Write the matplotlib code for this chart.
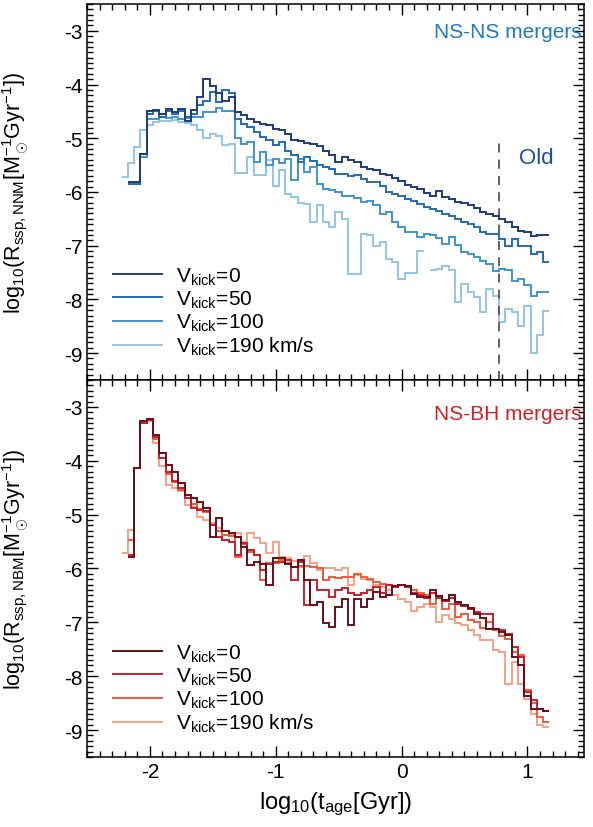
import numpy as np
import matplotlib
matplotlib.use("Agg")
import matplotlib.pyplot as plt
from matplotlib.ticker import MultipleLocator

plt.rcParams['font.family'] = ['Liberation Sans', 'DejaVu Sans']
plt.rcParams['mathtext.fontset'] = 'custom'
plt.rcParams['mathtext.rm'] = 'Liberation Sans'
plt.rcParams['mathtext.it'] = 'Liberation Sans:italic'
plt.rcParams['mathtext.bf'] = 'Liberation Sans:bold'
plt.rcParams['axes.unicode_minus'] = False

nan = np.nan

# log10(t_age / Gyr) bin edges, 0.05 dex wide
log_age_edges = np.round(np.arange(-2.225, 1.2, 0.05), 3)

kick_labels = ["V$_\\mathregular{kick}$=0", "V$_\\mathregular{kick}$=50",
               "V$_\\mathregular{kick}$=100", "V$_\\mathregular{kick}$=190 km/s"]

# NS-NS merger rate per unit stellar mass, log10
nnm_v0 = [nan, -5.81, -5.81, -5.29, -4.50, -4.47, -4.54, -4.45, -4.51, -4.45, -4.67, -4.48,
          -4.23, -3.90, -4.02, -4.16, -4.30, -4.23,
          -4.51, -4.57, -4.64, -4.69, -4.74, -4.76, -4.82, -4.84, -4.93, -5.04, -5.06,
          -5.08, -5.10, -5.14, -5.23, -5.31, -5.45, -5.35, -5.40, -5.45,
          -5.54, -5.57, -5.60, -5.66, -5.69, -5.74, -5.79, -5.87, -5.91, -5.94,
          -6.02, -6.07, -5.99, -6.10, -6.13, -6.19, -6.20, -6.24, -6.30, -6.38,
          -6.41, -6.44, -6.50, -6.56, -6.66, -6.72, -6.75, -6.82, -6.80, -6.81]
nnm_v50 = [nan, -5.85, -5.85, -5.29, -4.55, -4.50, -4.60, -4.50, -4.55, -4.50, -4.60, -4.55,
           -4.39, -4.31, -4.14, -4.33, -4.11, -4.15,
           -4.64, -4.73, -4.79, -4.88, -4.98, -5.03, -5.13, -5.07, -5.23, -5.32, -5.44,
           -5.35, -5.42, -5.50, -5.54, -5.57, -5.66, -5.66, -5.71, -5.68,
           -5.76, -5.81, -5.82, -5.88, -6.00, -6.04, -6.07, -6.13, -6.16, -6.22,
           -6.28, -6.32, -6.35, -6.41, -6.44, -6.50, -6.56, -6.60, -6.66, -6.74,
           -6.78, -6.78, -6.87, -7.00, -6.87, -7.00, -7.00, -7.15, -7.12, -7.30]
nnm_v100 = [nan, -5.85, -5.85, -5.35, -4.65, -4.65, -4.60, -4.62, -4.60, -4.65, -4.63, -4.60,
            -4.60, -4.51, -4.51, -4.44, -4.50, -4.50,
            -5.00, -5.10, -5.07, -5.44, -5.26, -5.50, -5.38, -5.47, -5.38, -5.78, -5.38,
            -5.63, -5.54, -5.86, -5.94, -5.97, -6.00, -6.07, -6.08, -6.12,
            -6.19, -6.16, -6.24, -6.41, -6.38, -6.55, -6.66, -6.75, -6.75, -6.84,
            -6.78, -6.81, -6.86, -6.97, -6.84, -6.99, -7.12, -7.15, -7.22, -7.28,
            -7.34, -7.48, -7.43, -7.46, -7.65, -7.62, -7.74, -7.93, -7.86, -7.86]
nnm_v190 = [-5.72, -5.47, -5.16, -4.85, -4.76, -4.70, -4.68, -4.68, -4.66, -4.70, -4.72, -4.76,
            -4.85, -5.00, -4.92, -4.96, -5.12, -5.10,
            -5.65, -5.65, -5.35, -5.69, -5.69, -5.40, -5.88, -5.60, -6.03, -6.10, -6.20,
            -6.22, -6.56, -6.25, -6.56, -6.66, -6.38, -6.50, -7.53, -7.53,
            -6.78, -6.81, -7.00, -6.94, -7.25, -7.31, -7.62, -7.50, -7.51, -7.09,
            nan, -7.46, -7.43, -7.37, -7.46, -8.05, -7.71, -7.87, -7.96, -8.24,
            -7.81, -7.93, -8.43, -8.18, -8.24, -8.49, -8.12, -8.99, -8.67, -8.21]

# NS-BH merger rate per unit stellar mass, log10
nbm_v0 = [nan, -5.78, -4.14, -3.27, -3.22, -3.52, -3.86, -4.07, -4.20, -4.42, -4.63, -4.70,
          -4.76, -4.88, -5.41, -5.07, -5.30, -5.35,
          -5.41, -5.60, -5.94, -5.88, -5.91, -6.31, -5.81, -5.81, -5.91, -5.97, -5.85,
          -6.22, -6.68, -6.62, -7.02, -7.09, -6.71, -6.56, -7.05, -6.56,
          -6.71, -6.56, -6.43, -6.53, -6.50, -6.32, -6.30, -6.32, -6.47, -6.52,
          -6.53, -6.40, -6.51, -6.59, -6.50, -6.63, -6.67, -6.74, -6.84, -6.92,
          -7.12, -7.13, -7.17, -7.24, -7.64, -7.80, -8.36, -8.60, -8.60, -8.65]
nbm_v50 = [nan, -5.75, -4.14, -3.30, -3.24, -3.55, -3.95, -4.20, -4.38, -4.51, -4.70, -4.88,
           -4.91, -4.94, -5.19, -5.41, -5.47, -5.50,
           -5.75, -5.53, -5.66, -5.75, -6.03, -5.91, -5.88, -5.88, -5.85, -6.22, -5.88,
           -6.68, -6.22, -6.40, -6.40, -6.53, -6.40, -6.37, -6.45, -6.50,
           -6.45, -6.40, -6.35, -6.45, -6.30, -6.35, -6.30, -6.35, -6.45, -6.50,
           -6.55, -6.45, -6.55, -6.60, -6.55, -6.65, -6.70, -6.75, -6.80, -6.85,
           -6.84, -7.13, -7.15, -7.22, -7.45, -7.65, -8.30, -8.45, -8.60, -8.65]
nbm_v100 = [nan, -5.47, -4.14, -3.30, -3.25, -3.60, -3.95, -4.25, -4.40, -4.55, -4.70, -4.80,
            -4.90, -4.95, -5.19, -5.30, -5.38, -5.40,
            -5.78, -5.55, -5.70, -5.75, -6.22, -5.90, -5.90, -5.85, -5.90, -5.97, -5.95,
            -5.95, -5.97, -6.00, -6.22, -6.15, -6.18, -6.15, -6.15, -6.10,
            -6.15, -6.20, -6.25, -6.28, -6.30, -6.32, -6.30, -6.35, -6.40, -6.45,
            -6.50, -6.65, -6.55, -6.75, -6.65, -6.90, -6.85, -6.95, -7.00, -7.10,
            -7.00, -7.15, -7.25, -7.30, -7.55, -7.60, -8.25, -8.50, -8.75, -8.85]
nbm_v190 = [-5.72, -5.29, -4.14, -3.30, -3.27, -3.67, -4.10, -4.45, -4.51, -4.57, -4.82, -4.85,
            -5.04, -5.10, -5.16, -5.25, -5.30, -5.38,
            -5.35, -5.50, -5.35, -5.44, -5.53, -5.72, -5.50, -5.78, -5.80, -5.87, -5.98,
            -5.76, -5.90, -6.03, -6.00, -6.00, -6.03, -6.00, -6.31, -6.12,
            -6.19, -6.22, -6.31, -6.34, -6.40, -6.50, -6.56, -6.62, -6.78, -6.71,
            -6.65, -6.71, -6.99, -6.87, -6.93, -7.02, -7.05, -7.15, -7.24, -7.33,
            -7.33, -7.52, -7.55, -8.14, -7.74, -8.14, -8.42, -8.70, -8.90, -8.95]

old_age_gyr = 6.0

blues = ["#1f3b7c", "#1f6db8", "#3f95d0", "#92c5e6"]
reds = ["#6b0d17", "#cc1f2a", "#f25a3d", "#f8a083"]

fig = plt.figure(figsize=(5.93, 8.28), dpi=100)
ax_top = fig.add_axes([0.1467, 0.5399, 0.8381, 0.4541])
ax_bot = fig.add_axes([0.1467, 0.0845, 0.8381, 0.4554])


def draw_panel(ax, series, colors):
    handles = []
    for vals, col, lab in zip(series, colors, kick_labels):
        h = ax.stairs(np.asarray(vals, float), log_age_edges, baseline=None,
                      color=col, lw=1.4, label=lab)
        handles.append(h)
    for h, z in zip(handles, [5, 4, 3, 2]):
        h.set_zorder(z)
    ax.set_xlim(-2.5, 1.45)
    ax.set_ylim(-9.5, -2.5)
    ax.xaxis.set_major_locator(MultipleLocator(1))
    ax.xaxis.set_minor_locator(MultipleLocator(0.1))
    ax.yaxis.set_major_locator(MultipleLocator(1))
    ax.yaxis.set_minor_locator(MultipleLocator(0.1))
    ax.tick_params(which='both', direction='in', top=True, right=True, labelsize=15, width=1)
    ax.tick_params(which='major', length=8)
    ax.tick_params(which='minor', length=4)
    for s in ax.spines.values():
        s.set_linewidth(1.1)
    leg = ax.legend(handles=handles, loc='lower left', bbox_to_anchor=(0.052, 0.06),
                    frameon=False, fontsize=15, handlelength=2.35, handletextpad=0.7,
                    labelspacing=0.09, borderpad=0, borderaxespad=0)
    return leg


draw_panel(ax_top, [nnm_v0, nnm_v50, nnm_v100, nnm_v190], blues)
draw_panel(ax_bot, [nbm_v0, nbm_v50, nbm_v100, nbm_v190], reds)

ax_top.tick_params(labelbottom=False)

ax_top.axvline(np.log10(old_age_gyr), ymin=0, ymax=(-5.0 + 9.5) / 7.0,
               color="#555555", lw=1.3, ls=(0, (5, 4)))
ax_top.text(0.93, -5.35, "Old", color="#1f4f9a", fontsize=16, ha='left', va='center')
ax_top.text(0.9955, 0.9255, "NS-NS mergers", transform=ax_top.transAxes, color="#2179c0",
            fontsize=15, ha='right', va='center')
ax_bot.text(0.9955, 0.912, "NS-BH mergers", transform=ax_bot.transAxes, color="#d41f26",
            fontsize=15, ha='right', va='center')

ax_top.set_ylabel("log$_{10}$(R$_\\mathregular{ssp,NNM}$[M$_\\odot^{-1}$Gyr$^{-1}$])", fontsize=15.5)
ax_bot.set_ylabel("log$_{10}$(R$_\\mathregular{ssp,NBM}$[M$_\\odot^{-1}$Gyr$^{-1}$])", fontsize=15.5)
for ax in (ax_top, ax_bot):
    ax.yaxis.set_label_coords(-0.112, 0.5)
ax_bot.set_xlabel("log$_{10}$(t$_\\mathregular{age}$[Gyr])", fontsize=17, labelpad=6)

fig.savefig("out.png", dpi=100)
